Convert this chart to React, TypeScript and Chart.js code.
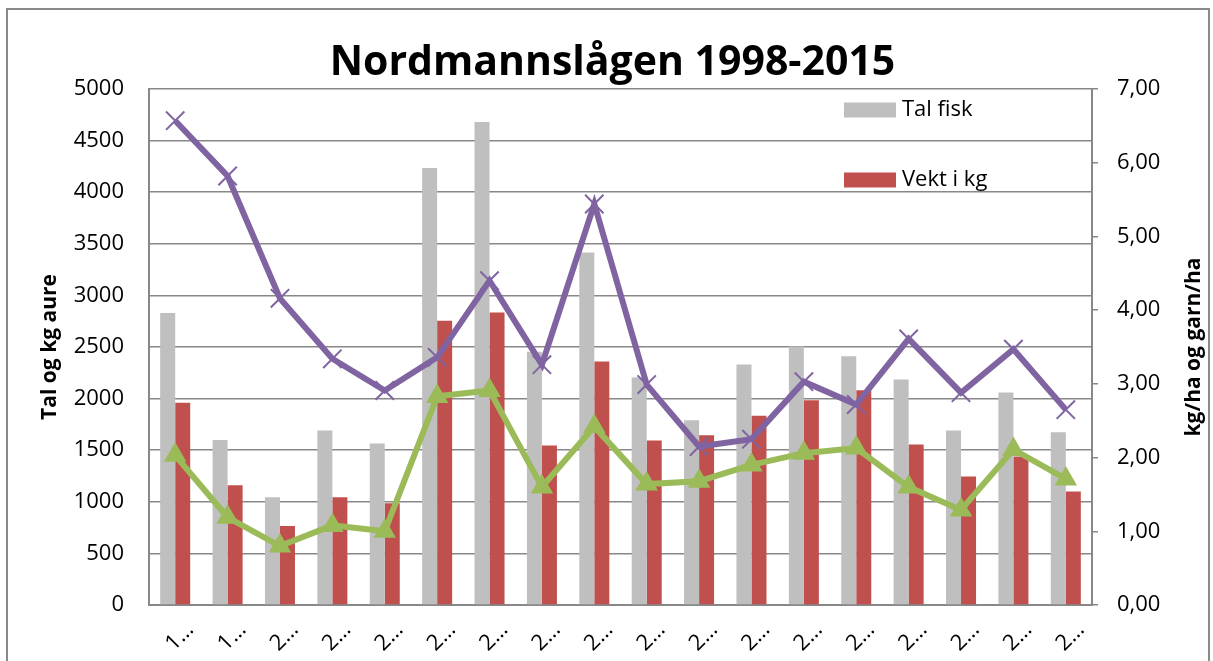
import React, { useEffect, useRef } from 'react';
import { Chart, registerables } from 'chart.js';

Chart.register(...registerables);

const titleText = 'Nordmannslågen 1998-2015';
const leftAxisTitle = 'Tal og kg aure';
const rightAxisTitle = 'kg/ha og garn/ha';

const years = [1998, 1999, 2000, 2001, 2002, 2003, 2004, 2005, 2006, 2007, 2008, 2009, 2010, 2011, 2012, 2013, 2014, 2015];
const talFisk = [2830, 1600, 1045, 1690, 1565, 4235, 4680, 2455, 3415, 2205, 1790, 2330, 2505, 2410, 2185, 1690, 2060, 1675];
const vektKg = [1960, 1160, 765, 1045, 985, 2755, 2835, 1545, 2360, 1595, 1645, 1835, 1985, 2080, 1555, 1245, 1440, 1100];
const kgPerHa = [6.57, 5.82, 4.16, 3.34, 2.91, 3.36, 4.40, 3.26, 5.44, 2.99, 2.15, 2.25, 3.03, 2.72, 3.61, 2.88, 3.47, 2.65];
const garnPerHa = [2.03, 1.19, 0.80, 1.08, 1.00, 2.83, 2.91, 1.60, 2.42, 1.64, 1.68, 1.90, 2.06, 2.13, 1.60, 1.29, 2.11, 1.71];
const leftTicks = { min: 0, max: 5000, step: 500 };
const rightTicks = { min: 0, max: 7, step: 1 };

const GRAY = '#BFBFBF';
const RED = '#C0504D';
const PURPLE = '#8064A2';
const GREEN = '#9BBB59';
const GRID = '#888888';
const FONT = '"Open Sans", "Noto Sans", sans-serif';

export default function App() {
  const ref = useRef<HTMLCanvasElement>(null);

  useEffect(() => {
    document.body.style.margin = '0';
    const canvas = ref.current;
    if (!canvas) return;

    const decor = {
      id: 'decor',
      afterDraw(chart: any) {
        const ctx = chart.ctx as CanvasRenderingContext2D;
        const { top, bottom } = chart.chartArea;
        ctx.save();
        ctx.fillStyle = '#000';
        ctx.font = `bold 41px ${FONT}`;
        ctx.textAlign = 'center';
        ctx.textBaseline = 'alphabetic';
        ctx.fillText(titleText, chart.width / 2 + 6, 75);

        ctx.font = `bold 21px ${FONT}`;
        ctx.textBaseline = 'middle';
        const cy = (top + bottom) / 2;
        const titles: [number, string][] = [[50, leftAxisTitle], [1194, rightAxisTitle]];
        titles.forEach(([x, t]) => {
          ctx.save();
          ctx.translate(x, cy);
          ctx.rotate(-Math.PI / 2);
          ctx.fillText(t, 0, 0);
          ctx.restore();
        });

        ctx.font = `22px ${FONT}`;
        ctx.textAlign = 'left';
        const bars = chart.data.datasets.filter((d: any) => d.type === 'bar');
        bars.forEach((ds: any, i: number) => {
          const y = 110 + i * 70;
          ctx.fillStyle = ds.backgroundColor;
          ctx.fillRect(844, y - 7.5, 52, 15);
          ctx.fillStyle = '#000';
          ctx.fillText(ds.label, 902, y);
        });
        ctx.restore();
      },
    };

    const chart = new Chart(canvas, {
      type: 'bar',
      data: {
        labels: years.map(String),
        datasets: [
          {
            type: 'line',
            label: 'kg/ha',
            data: kgPerHa,
            yAxisID: 'y1',
            borderColor: PURPLE,
            backgroundColor: PURPLE,
            borderWidth: 6,
            pointStyle: 'crossRot',
            pointRadius: 13,
            pointBorderWidth: 2,
            pointBorderColor: PURPLE,
            tension: 0,
            order: 0,
          } as any,
          {
            type: 'line',
            label: 'garn/ha',
            data: garnPerHa,
            yAxisID: 'y1',
            borderColor: GREEN,
            backgroundColor: GREEN,
            borderWidth: 6,
            pointStyle: 'triangle',
            pointRadius: 11,
            pointBorderWidth: 2,
            pointBorderColor: GREEN,
            pointBackgroundColor: GREEN,
            tension: 0,
            order: 0,
          } as any,
          {
            type: 'bar',
            label: 'Tal fisk',
            data: talFisk,
            yAxisID: 'y',
            backgroundColor: GRAY,
            categoryPercentage: 0.573,
            barPercentage: 1,
            order: 1,
          } as any,
          {
            type: 'bar',
            label: 'Vekt i kg',
            data: vektKg,
            yAxisID: 'y',
            backgroundColor: RED,
            categoryPercentage: 0.573,
            barPercentage: 1,
            order: 1,
          } as any,
        ],
      },
      options: {
        responsive: false,
        animation: false,
        layout: { padding: { top: 89, left: 0, right: 0, bottom: 0 } },
        plugins: {
          legend: { display: false },
          title: { display: false },
          tooltip: { enabled: false },
        },
        scales: {
          x: {
            grid: { display: false, drawTicks: false },
            border: { display: true, color: GRID, width: 2 },
            ticks: {
              autoSkip: false,
              minRotation: 45,
              maxRotation: 45,
              padding: 12,
              labelOffset: 15,
              color: '#000',
              font: { family: FONT, size: 22 },
              callback: (_v: any, i: number) => String(years[i]).charAt(0) + '…',
            },
            afterFit: (s: any) => { s.height = 56; },
          },
          y: {
            position: 'left',
            min: leftTicks.min,
            max: leftTicks.max,
            ticks: {
              stepSize: leftTicks.step,
              padding: 25,
              color: '#000',
              font: { family: FONT, size: 22 },
              callback: (v: any) => String(v),
            },
            grid: { color: GRID, lineWidth: 1.5, drawTicks: false },
            border: { display: true, color: GRID, width: 2 },
            afterFit: (s: any) => { s.width = 149; },
          },
          y1: {
            position: 'right',
            min: rightTicks.min,
            max: rightTicks.max,
            ticks: {
              stepSize: rightTicks.step,
              padding: 19,
              color: '#000',
              font: { family: FONT, size: 22 },
              callback: (v: any) => Number(v).toFixed(2).replace('.', ','),
            },
            grid: { drawOnChartArea: false, drawTicks: true, tickLength: 6, color: GRID, lineWidth: 1.5 },
            border: { display: true, color: GRID, width: 2 },
            afterFit: (s: any) => { s.width = 121; },
          },
        },
      } as any,
      plugins: [decor],
    });

    return () => chart.destroy();
  }, []);

  return (
    <div style={{ position: 'relative', width: 1213, height: 661, overflow: 'hidden', background: '#fff' }}>
      <canvas ref={ref} width={1213} height={661} style={{ display: 'block' }} />
      <div
        style={{
          position: 'absolute',
          left: 6,
          top: 8,
          width: 1204,
          height: 720,
          border: '2px solid #8A8A8A',
          boxSizing: 'border-box',
          pointerEvents: 'none',
        }}
      />
    </div>
  );
}
